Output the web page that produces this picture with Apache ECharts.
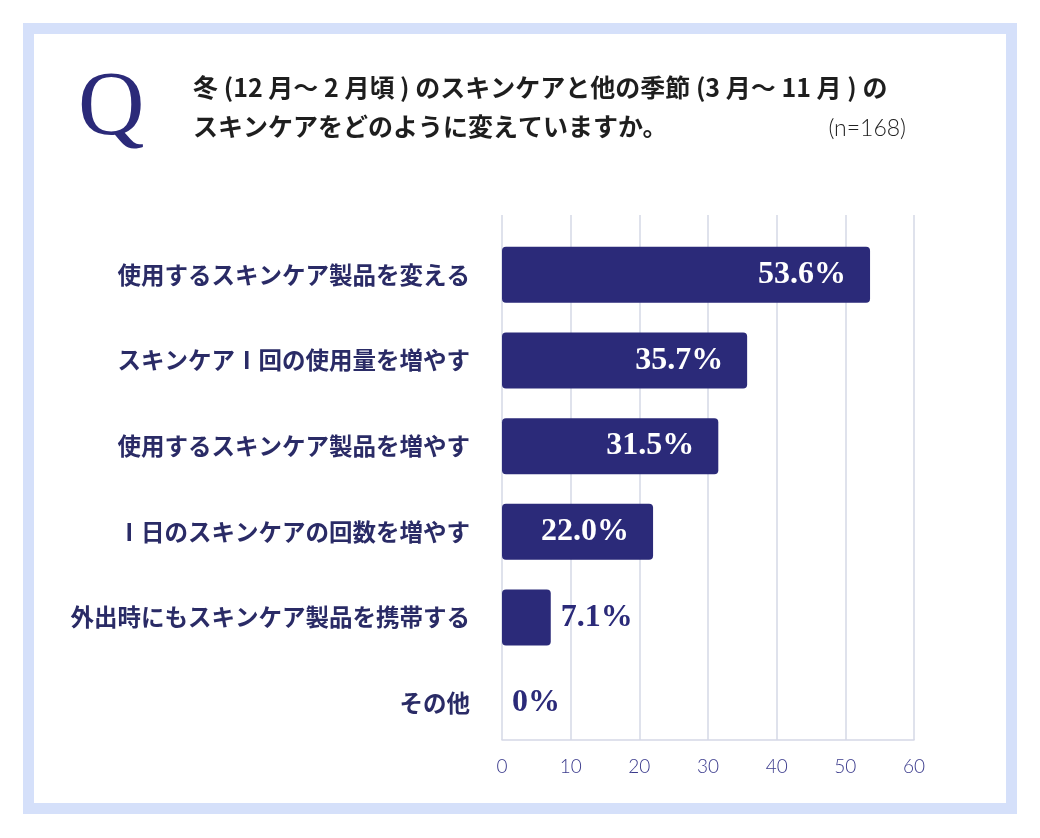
<!DOCTYPE html>
<html lang="ja">
<head>
    <meta charset="UTF-8">
    <title>冬のスキンケア</title>
    <script src="https://cdn.jsdelivr.net/npm/echarts@6/dist/echarts.min.js"></script>
    <style>
        html, body { margin: 0; padding: 0; background: #fff; }
        #chart { width: 1040px; height: 838px; }
    </style>
</head>
<body>
<div id="chart"></div>
<script>
    // データ
    var categories = [
        '使用するスキンケア製品を変える',
        'スキンケアⅠ回の使用量を増やす',
        '使用するスキンケア製品を増やす',
        'Ⅰ日のスキンケアの回数を増やす',
        '外出時にもスキンケア製品を携帯する',
        'その他'
    ];
    var values = [53.6, 35.7, 31.5, 22.0, 7.1, 0];
    var valueLabels = ['53.6%', '35.7%', '31.5%', '22.0%', '7.1%', '0%'];
    var xTicks = [0, 10, 20, 30, 40, 50, 60];

    var navy = '#2b2a79';
    var chart = echarts.init(document.getElementById('chart'));

    // 短いバーはラベルを外側に
    var barData = values.map(function (v, i) {
        var inside = v >= 10;
        return {
            value: v,
            label: {
                position: inside ? 'insideRight' : 'right',
                distance: inside ? 24 : 10,
                color: inside ? '#fff' : navy,
                formatter: valueLabels[i]
            }
        };
    });

    var option = {
        animation: false,
        backgroundColor: '#fff',
        graphic: [
            {
                type: 'rect',
                shape: {x: 28.5, y: 28.5, width: 983, height: 780},
                style: {fill: '#fff', stroke: '#d5e0fa', lineWidth: 11},
                z: -10
            },
            {
                type: 'text', left: 78, top: 64,
                style: {text: 'Q', font: '92px "Liberation Serif", serif', fill: navy}
            },
            {
                type: 'text', left: 193, top: 75,
                style: {
                    text: '冬 (12 月〜 2 月頃 ) のスキンケアと他の季節 (3 月〜 11 月 ) の',
                    font: 'bold 25px "Noto Sans CJK JP", sans-serif', fill: '#1e1e1e'
                }
            },
            {
                type: 'text', left: 193, top: 114,
                style: {
                    text: 'スキンケアをどのように変えていますか。',
                    font: 'bold 25px "Noto Sans CJK JP", sans-serif', fill: '#1e1e1e'
                }
            },
            {
                type: 'text', right: 134, top: 117,
                style: {text: '(n=168)', font: '300 23px Lato, sans-serif', fill: '#222'}
            }
        ],
        grid: [
            {left: 502, right: 126, top: 215, bottom: 98},
            {left: 502, right: 126, top: 232, bottom: 92}
        ],
        xAxis: [
            {
                type: 'value', gridIndex: 0, min: 0, max: 60, interval: 10,
                axisLine: {show: true, lineStyle: {color: '#d5d8e6', width: 1.5}},
                axisTick: {show: false},
                splitLine: {lineStyle: {color: '#d5d8e6', width: 1.5}},
                axisLabel: {
                    margin: 17, color: '#3a3a8c', fontSize: 19,
                    fontFamily: 'Lato', fontWeight: 300,
                    formatter: function (v) { return xTicks.indexOf(v) >= 0 ? String(v) : ''; }
                }
            },
            {
                type: 'value', gridIndex: 1, min: 0, max: 60, interval: 10,
                axisLine: {show: false}, axisTick: {show: false},
                axisLabel: {show: false}, splitLine: {show: false}
            }
        ],
        yAxis: [
            {
                type: 'category', gridIndex: 0, data: categories, inverse: true,
                axisLine: {show: false}, axisTick: {show: false},
                axisLabel: {show: false}, splitLine: {show: false}
            },
            {
                type: 'category', gridIndex: 1, data: categories, inverse: true,
                axisLine: {show: false}, axisTick: {show: false},
                axisLabel: {
                    margin: 32, color: '#2a2b66', fontSize: 23.5, fontWeight: 'bold',
                    fontFamily: '"Noto Sans CJK JP", sans-serif'
                }
            }
        ],
        series: [{
            type: 'bar',
            xAxisIndex: 1,
            yAxisIndex: 1,
            data: barData,
            barWidth: 56,
            itemStyle: {color: navy, borderRadius: 4},
            label: {
                show: true,
                fontFamily: '"Liberation Serif", serif',
                fontWeight: 'bold',
                fontSize: 32
            }
        }]
    };

    chart.setOption(option);
</script>
</body>
</html>
